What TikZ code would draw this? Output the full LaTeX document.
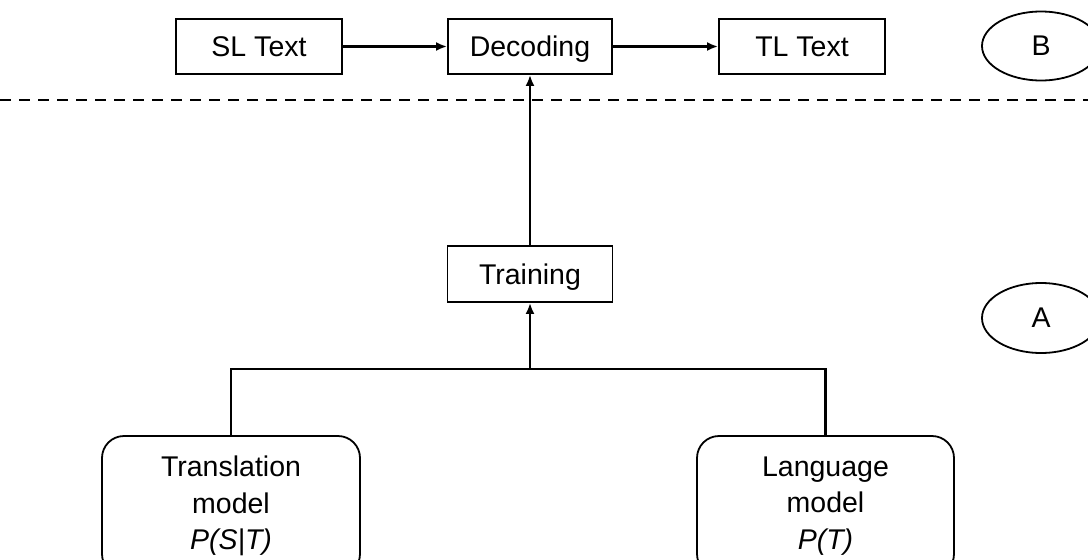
\documentclass[tikz,border=0pt]{standalone}
\usepackage{fontspec}
\setmainfont{Liberation Sans}
\usetikzlibrary{arrows.meta,shapes.geometric}
\begin{document}
\begin{tikzpicture}[x=1pt,y=-1pt,
  font=\fontsize{28.5}{36.5}\selectfont,
  box/.style={draw,line width=1.8pt,minimum height=55pt,inner sep=0pt,text height=26pt,text depth=6pt},
  modelbox/.style={draw,line width=1.8pt,rounded corners=22pt,minimum width=258pt,minimum height=140pt,align=center,inner sep=0pt},
  tag/.style={draw,ellipse,line width=1.8pt,minimum width=118pt,minimum height=69pt,inner sep=0pt},
  link/.style={line width=2.3pt},
  arrow/.style={link,-{Latex[length=11pt,width=9pt]}},
  divider/.style={line width=2.3pt,dash pattern=on 11pt off 8pt}]
  \useasboundingbox (0,0) rectangle (1088,560);
  \clip (0,0) rectangle (1088,560);

  % decoding stage
  \node[box,minimum width=166pt] (sl)  at (259,46.5) {SL Text};
  \node[box,minimum width=164pt] (dec) at (530,46.5) {Decoding};
  \node[box,minimum width=166pt] (tl)  at (802,46.5) {TL Text};
  \node[tag] (b) at (1041,46) {B};

  % stage separator
  \coordinate (sepL) at (0,100);
  \coordinate (sepR) at (1088,100);
  \draw[divider] (sepL) -- (sepR);

  % training stage
  \node[box,minimum width=165pt,minimum height=56pt] (train) at (530,274) {Training};
  \node[tag,minimum height=70pt] (a) at (1041,318) {A};
  \node[modelbox] (tm) at (231,506) {Translation\\model\\\textit{P(S|T)}};
  \node[modelbox,minimum width=257pt] (lm) at (825.5,506) {Language\\model\\\textit{P(T)}};

  % connectors
  \draw[arrow] (sl) -- (dec);
  \draw[arrow] (dec) -- (tl);
  \draw[arrow] (train) -- (dec);
  \coordinate (join) at (530,369);
  \draw[link] (tm.north) |- (join) -| (lm.north);
  \draw[arrow] (join) -- (train);
\end{tikzpicture}
\end{document}
